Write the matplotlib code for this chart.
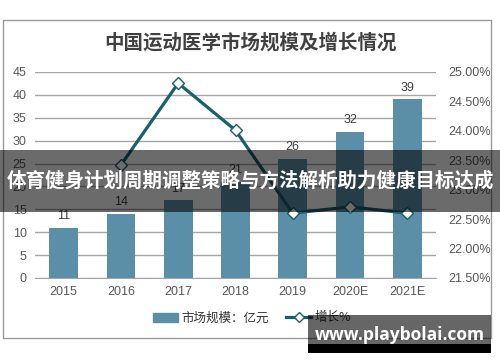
import matplotlib.pyplot as plt
from matplotlib.patches import Rectangle
from matplotlib.lines import Line2D

plt.rcParams['font.family'] = ['Liberation Sans', 'Noto Sans CJK SC', 'DejaVu Sans']

years = ["2015", "2016", "2017", "2018", "2019", "2020E", "2021E"]
market_size = [11, 14, 17, 21, 26, 32, 39]
growth_years = ["2016", "2017", "2018", "2019", "2020E", "2021E"]
growth_pct = [23.42, 24.81, 24.01, 22.60, 22.71, 22.60]

bar_color = "#5b8fa8"
line_color = "#1b5e6c"
text_gray = "#595959"

fig = plt.figure(figsize=(5, 3.62), dpi=100)
fig.patch.set_facecolor("white")

# outer chart frame
fig.patches.append(Rectangle((3 / 500, 24 / 362), 488 / 500, 318 / 362,
                             transform=fig.transFigure, fill=False,
                             edgecolor="#9a9a9a", linewidth=1))

fig.text(0.5, 1 - 43 / 362, "中国运动医学市场规模及增长情况", ha="center", va="center",
         fontsize=14, fontweight="bold", color="#404040",
         family=["Noto Sans CJK SC", "DejaVu Sans"])

ax = fig.add_axes([35 / 500, 84 / 362, 401 / 500, 206 / 362])
x = list(range(len(years)))
ax.bar(x, market_size, width=0.5, color=bar_color, zorder=2)
for xi, v in zip(x, market_size):
    ax.text(xi, v + 1.2, str(v), ha="center", va="bottom", fontsize=9, color="#404040")

ax.set_xlim(-0.5, len(years) - 0.5)
ax.set_ylim(0, 45)
ax.set_yticks(range(0, 46, 5))
ax.set_xticks(x)
ax.set_xticklabels(years)
ax.grid(axis="y", color="#a6a6a6", linewidth=1, zorder=0)
ax.tick_params(length=0, labelsize=9, colors=text_gray, pad=6)
for s in ["top", "right", "left"]:
    ax.spines[s].set_visible(False)
ax.spines["bottom"].set_color("#a6a6a6")

ax2 = ax.twinx()
gx = [years.index(y) for y in growth_years]
ax2.plot(gx, growth_pct, color=line_color, linewidth=2.3, marker="D", markersize=6,
         markerfacecolor="white", markeredgecolor=line_color, markeredgewidth=1, zorder=3)
ax2.set_ylim(21.5, 25.0)
ax2.set_yticks([21.5, 22.0, 22.5, 23.0, 23.5, 24.0, 24.5, 25.0])
ax2.set_yticklabels(["%.2f%%" % t for t in ax2.get_yticks()])
ax2.tick_params(length=0, labelsize=9, colors=text_gray, pad=9)
for s in ["top", "right", "left", "bottom"]:
    ax2.spines[s].set_visible(False)

handles = [Rectangle((0, 0), 1, 1, color=bar_color),
           Line2D([0], [0], color=line_color, linewidth=2.3, marker="D", markersize=5,
                  markerfacecolor="white", markeredgecolor=line_color)]
leg = fig.legend(handles, ["市场规模：亿元", "增长%"], loc="center", ncol=2,
                 bbox_to_anchor=(0.504, 1 - 318 / 362), frameon=False, handlelength=2.0,
                 handletextpad=0.25, columnspacing=1.4,
                 prop={"family": ["Noto Sans CJK SC", "DejaVu Sans"], "size": 9},
                 labelcolor="#333333")
leg.set_zorder(5)

# watermark box, semi-transparent so the legend shows through
fig.patches.append(Rectangle((308 / 500, 18 / 362), 183 / 500, 29 / 362,
                             transform=fig.transFigure, facecolor="black", alpha=0.6,
                             zorder=10))
fig.patches.append(Rectangle((308 / 500, 9 / 362), 183 / 500, 9 / 362,
                             transform=fig.transFigure, facecolor="black", zorder=10))
fig.text(400 / 500, 1 - 335 / 362, "www.playbolai.com", ha="center", va="center",
         fontsize=12.5, fontweight="bold", color="white",
         family=["Open Sans", "DejaVu Sans"], zorder=11)

# dark banner across the middle
fig.patches.append(Rectangle((0, 150 / 362), 1, 62 / 362, transform=fig.transFigure,
                             facecolor="black", alpha=0.58, zorder=10))
fig.text(0.5, 1 - 181 / 362, "体育健身计划周期调整策略与方法解析助力健康目标达成",
         ha="center", va="center", fontsize=14, fontweight="bold", color="white",
         family=["Noto Sans CJK SC", "DejaVu Sans"], zorder=11)

fig.savefig("out.png", dpi=100)
